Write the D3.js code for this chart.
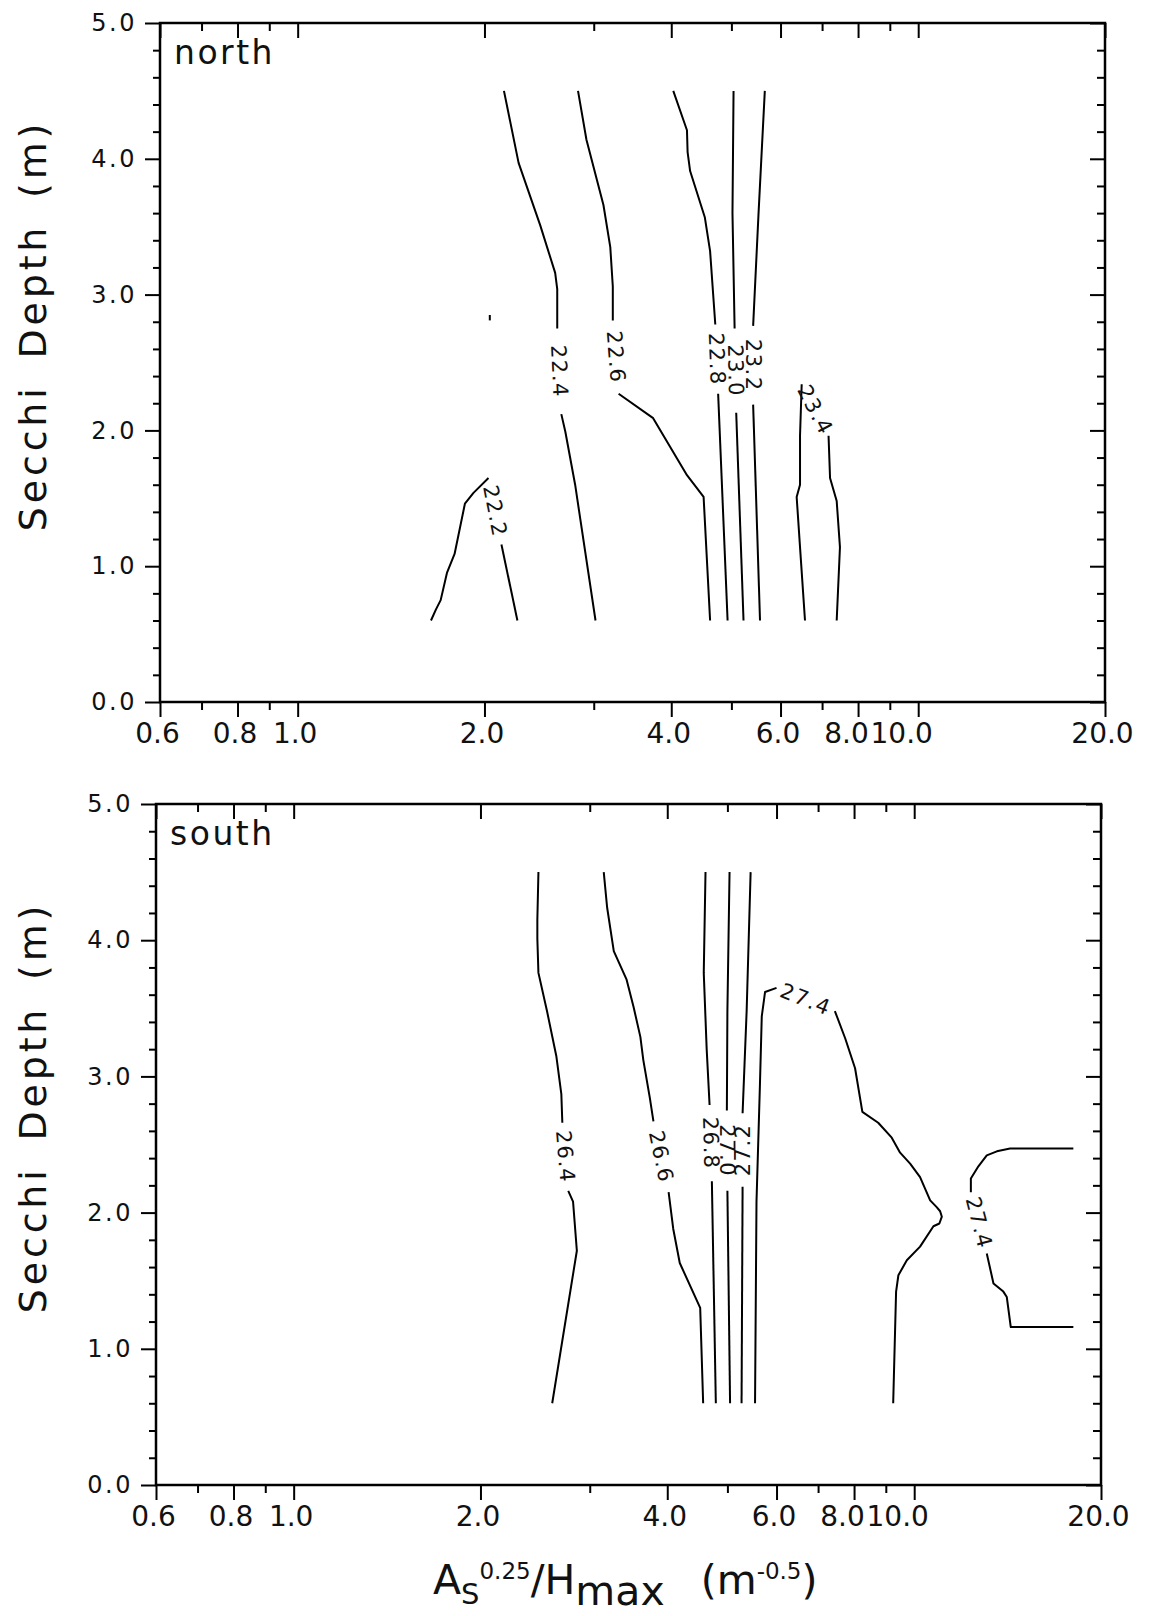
<!DOCTYPE html>
<html>
<head>
<meta charset="utf-8">
<script src="https://cdn.jsdelivr.net/npm/d3@7"></script>
<style>
  html, body { margin: 0; padding: 0; background: #fff; }
  svg { display: block; }
  text { font-family: "DejaVu Sans", sans-serif; fill: #111; }
</style>
</head>
<body>
<svg id="chart" width="1150" height="1616"></svg>
<script>
// ---- axis definitions ----
const xDomain = [0.6, 20];
const yDomain = [0, 5];
const xTickMajor = [0.6, 0.8, 1.0, 2.0, 4.0, 6.0, 8.0, 10.0, 20.0];
const xTickLabels = ["0.6", "0.8", "1.0", "2.0", "4.0", "6.0", "8.0", "10.0", "20.0"];
const xTickMinor = [0.7, 0.9, 3.0, 5.0, 7.0, 9.0];
const yTickMajor = [0, 1, 2, 3, 4, 5];
const yTickLabels = ["0.0", "1.0", "2.0", "3.0", "4.0", "5.0"];
const yTickMinor = [0.2, 0.4, 0.6, 0.8, 1.2, 1.4, 1.6, 1.8, 2.2, 2.4, 2.6, 2.8,
                    3.2, 3.4, 3.6, 3.8, 4.2, 4.4, 4.6, 4.8];

// ---- contour isolines: [x, Secchi depth]; each line is split where its label sits ----
const northLevels = [22.2, 22.4, 22.6, 22.8, 23.0, 23.2, 23.4];
const north_22_2 = [
  [[1.64, 0.60], [1.67, 0.68], [1.70, 0.75], [1.74, 0.95], [1.79, 1.09], [1.86, 1.46], [1.92, 1.54], [2.03, 1.65]],
  [[2.13, 1.16], [2.26, 0.60]],
  [[2.04, 2.85], [2.04, 2.81]]
];
const north_22_4 = [
  [[2.15, 4.50], [2.27, 3.97], [2.46, 3.51], [2.60, 3.16], [2.62, 3.04], [2.62, 2.75]],
  [[2.66, 2.12], [2.70, 1.99], [2.80, 1.60], [3.02, 0.60]]
];
const north_22_6 = [
  [[2.83, 4.50], [2.92, 4.14], [3.11, 3.66], [3.19, 3.35], [3.22, 3.06], [3.22, 2.81]],
  [[3.29, 2.27], [3.74, 2.09], [4.24, 1.67], [4.51, 1.51], [4.62, 0.60]]
];
const north_22_8 = [
  [[4.03, 4.50], [4.24, 4.21], [4.25, 4.05], [4.29, 3.91], [4.53, 3.57], [4.62, 3.32], [4.71, 2.78]],
  [[4.76, 2.27], [4.93, 0.60]]
];
const north_23_0 = [
  [[5.04, 4.50], [5.02, 3.60], [5.06, 2.75]],
  [[5.09, 2.13], [5.23, 0.60]]
];
const north_23_2 = [
  [[5.66, 4.50], [5.53, 3.60], [5.42, 2.77]],
  [[5.42, 2.19], [5.56, 0.60]]
];
const north_23_4 = [
  [[6.57, 0.60], [6.45, 1.14], [6.37, 1.51], [6.45, 1.60], [6.45, 1.96], [6.49, 2.34]],
  [[7.17, 1.96], [7.21, 1.65], [7.39, 1.48], [7.48, 1.14], [7.39, 0.60]]
];

const southLevels = [26.4, 26.6, 26.8, 27.0, 27.2, 27.4, 27.4];
const south_26_4 = [
  [[2.48, 4.50], [2.47, 4.15], [2.47, 4.01], [2.48, 3.76], [2.56, 3.48], [2.65, 3.15], [2.70, 2.87], [2.71, 2.66]],
  [[2.77, 2.16], [2.82, 2.08], [2.86, 1.72], [2.61, 0.60]]
];
const south_26_6 = [
  [[3.16, 4.50], [3.20, 4.24], [3.28, 3.92], [3.44, 3.71], [3.53, 3.51], [3.62, 3.29], [3.66, 3.12], [3.75, 2.84], [3.80, 2.67]],
  [[4.02, 2.15], [4.09, 1.88], [4.19, 1.63], [4.52, 1.30], [4.57, 0.60]]
];
const south_26_8 = [
  [[4.61, 4.50], [4.58, 3.76], [4.63, 3.20], [4.68, 2.79]],
  [[4.72, 2.23], [4.79, 0.60]]
];
const south_27_0 = [
  [[5.04, 4.50], [5.00, 3.48], [4.99, 2.75]],
  [[5.00, 2.16], [5.05, 0.60]]
];
const south_27_2 = [
  [[5.27, 0.60], [5.29, 2.19]],
  [[5.29, 2.73], [5.37, 3.48], [5.45, 4.50]]
];
const south_27_4_a = [
  [[5.54, 0.60], [5.57, 2.08], [5.64, 2.92], [5.68, 3.44], [5.75, 3.62], [6.00, 3.65]],
  [[7.45, 3.48], [7.74, 3.28], [8.03, 3.06], [8.25, 2.74], [8.75, 2.66], [9.20, 2.55], [9.49, 2.44],
   [9.85, 2.36], [10.22, 2.26], [10.61, 2.09], [10.87, 2.04], [11.01, 2.01], [11.08, 1.97], [10.98, 1.92],
   [10.74, 1.90], [10.22, 1.75], [9.73, 1.65], [9.43, 1.54], [9.35, 1.42], [9.25, 0.60]]
];
const south_27_4_b = [
  [[18.05, 2.47], [14.27, 2.47], [13.59, 2.45], [13.09, 2.42], [12.69, 2.34], [12.34, 2.25], [12.34, 2.15]],
  [[13.09, 1.70], [13.42, 1.48], [13.92, 1.42], [14.10, 1.38], [14.31, 1.16], [18.05, 1.16]]
];

const panels = [
  { name: "north", levels: northLevels,
    lines: [north_22_2, north_22_4, north_22_6, north_22_8, north_23_0, north_23_2, north_23_4],
    box: { left: 160, right: 1105, top: 23, bottom: 702 } },
  { name: "south", levels: southLevels,
    lines: [south_26_4, south_26_6, south_26_8, south_27_0, south_27_2, south_27_4_a, south_27_4_b],
    box: { left: 156, right: 1101, top: 804, bottom: 1485 } }
];

const svg = d3.select("#chart");

function styleAxis(sel, fontSize, spacing) {
  sel.select(".domain").remove();
  sel.selectAll(".tick line").attr("stroke", "#000").attr("stroke-width", 2);
  sel.selectAll(".tick text")
    .attr("fill", "#111")
    .style("font-family", '"DejaVu Sans", sans-serif')
    .style("font-size", fontSize + "px")
    .style("letter-spacing", spacing + "px");
  sel.attr("font-family", null).attr("font-size", null);
}

// the crowded 8.0 / 10.0 pair is pulled left so the two labels sit side by side
const xLabelShift = d => (d === 8 ? -12 : d === 10 ? -17 : -3);

panels.forEach(p => {
  const b = p.box;
  const w = b.right - b.left, h = b.bottom - b.top;
  const g = svg.append("g").attr("transform", `translate(${b.left},${b.top})`);

  const x = d3.scaleLog().domain(xDomain).range([0, w]);
  const y = d3.scaleLinear().domain(yDomain).range([h, 0]);

  // bottom axis: outward ticks with labels
  g.append("g").attr("transform", `translate(0,${h})`)
    .call(d3.axisBottom(x).tickValues(xTickMajor).tickFormat((d, i) => xTickLabels[i]).tickSize(15).tickPadding(6))
    .call(s => styleAxis(s, 28, 0))
    .call(s => s.selectAll(".tick text").attr("dx", xLabelShift));
  g.append("g").attr("transform", `translate(0,${h})`)
    .call(d3.axisBottom(x).tickValues(xTickMinor).tickFormat("").tickSize(8))
    .call(s => styleAxis(s, 10, 0));
  // top axis: inward ticks
  g.append("g")
    .call(d3.axisTop(x).tickValues(xTickMajor).tickFormat("").tickSize(-15))
    .call(s => styleAxis(s, 10, 0));
  g.append("g")
    .call(d3.axisTop(x).tickValues(xTickMinor).tickFormat("").tickSize(-8))
    .call(s => styleAxis(s, 10, 0));
  // left axis: outward ticks with labels
  g.append("g")
    .call(d3.axisLeft(y).tickValues(yTickMajor).tickFormat((d, i) => yTickLabels[i]).tickSize(15).tickPadding(8))
    .call(s => styleAxis(s, 24, 2.5));
  g.append("g")
    .call(d3.axisLeft(y).tickValues(yTickMinor).tickFormat("").tickSize(7))
    .call(s => styleAxis(s, 10, 0));
  // right axis: inward ticks
  g.append("g").attr("transform", `translate(${w},0)`)
    .call(d3.axisRight(y).tickValues(yTickMajor).tickFormat("").tickSize(-15))
    .call(s => styleAxis(s, 10, 0));
  g.append("g").attr("transform", `translate(${w},0)`)
    .call(d3.axisRight(y).tickValues(yTickMinor).tickFormat("").tickSize(-8))
    .call(s => styleAxis(s, 10, 0));

  // frame
  g.append("rect").attr("x", 0).attr("y", 0).attr("width", w).attr("height", h)
    .attr("fill", "none").attr("stroke", "#000").attr("stroke-width", 2.5);

  // panel name
  g.append("text").attr("x", 14).attr("y", 41)
    .style("font-size", "33px").style("letter-spacing", "2.5px")
    .text(p.name);

  // y-axis title
  svg.append("text")
    .attr("transform", `translate(46,${b.top + h / 2 - 37}) rotate(-90)`)
    .attr("text-anchor", "middle")
    .style("font-size", "38px").style("letter-spacing", "3.8px").style("word-spacing", "10px")
    .text("Secchi Depth (m)");

  // contour lines and in-line labels
  const line = d3.line().x(d => x(d[0])).y(d => y(d[1]));
  const cg = g.append("g");
  p.lines.forEach((segs, k) => {
    segs.forEach(seg => {
      cg.append("path").attr("d", line(seg))
        .attr("fill", "none").attr("stroke", "#000")
        .attr("stroke-width", 2).attr("stroke-linejoin", "round");
    });
    const a = segs[0][segs[0].length - 1], c = segs[1][0];
    const ax = x(a[0]), ay = y(a[1]), cx = x(c[0]), cy = y(c[1]);
    const mx = (ax + cx) / 2, my = (ay + cy) / 2;
    const ang = Math.atan2(cy - ay, cx - ax) * 180 / Math.PI;
    cg.append("text")
      .attr("transform", `translate(${mx},${my}) rotate(${ang})`)
      .attr("text-anchor", "middle").attr("dominant-baseline", "central")
      .style("font-size", "21px").style("letter-spacing", "1.5px")
      .text(p.levels[k].toFixed(1));
  });
});

// x-axis title
const xt = svg.append("text").attr("x", 433).attr("y", 1594).style("font-size", "41px");
xt.append("tspan").text("A");
xt.append("tspan").attr("dy", 10).style("font-size", "29px").text("S");
xt.append("tspan").attr("dy", -25).style("font-size", "23px").text("0.25");
xt.append("tspan").attr("dy", 15).text("/H");
xt.append("tspan").attr("dy", 11).text("max");
xt.append("tspan").attr("dy", -11).attr("dx", 36).text("(m");
xt.append("tspan").attr("dy", -15).style("font-size", "23px").text("-0.5");
xt.append("tspan").attr("dy", 15).text(")");
</script>
</body>
</html>
